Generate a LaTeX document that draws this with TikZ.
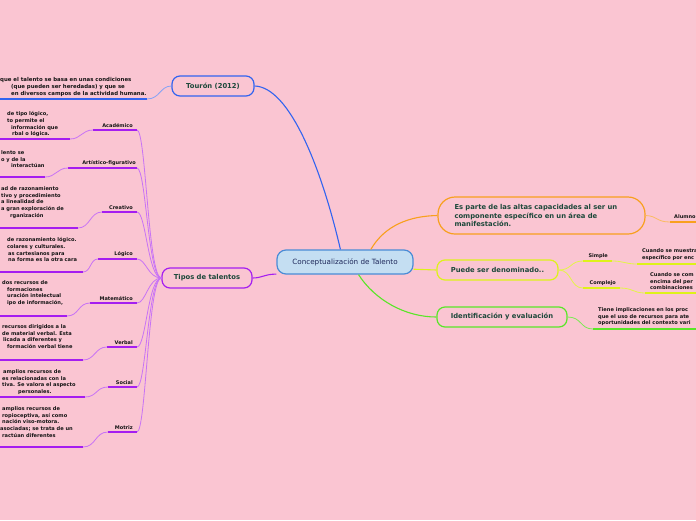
\documentclass[tikz,border=0pt]{standalone}
\usepackage{fontspec}
\setmainfont{DejaVu Sans}
\usepackage{tikz}
\usetikzlibrary{positioning}
\definecolor{bgpink}{RGB}{250,197,210}
\definecolor{nodetext}{RGB}{28,72,58}
\definecolor{navytext}{RGB}{30,40,90}
\definecolor{centfill}{RGB}{196,222,242}
\definecolor{centdraw}{RGB}{74,140,214}
\definecolor{tblue}{RGB}{50,100,240}
\definecolor{tpurple}{RGB}{165,30,240}
\definecolor{lpurple}{RGB}{200,115,245}
\definecolor{torange}{RGB}{248,160,30}
\definecolor{tyellow}{RGB}{222,242,25}
\definecolor{tgreen}{RGB}{90,230,40}
\begin{document}
\begin{tikzpicture}[x=1pt,y=-1pt]
		\tikzset{idea/.style={draw=#1,line width=1.2pt,rounded corners=8pt,text=nodetext,font=\fontsize{6.8}{8.4}\selectfont\bfseries,inner sep=0pt,minimum height=20pt}};
		\tikzset{sub/.style={text=black!92,font=\fontsize{5}{6.6}\selectfont\bfseries,inner sep=0pt}};
		\tikzset{nota/.style={text=black!92,font=\fontsize{5.1}{6.6}\selectfont\bfseries,inner sep=0pt,anchor=north west,align=left}};
		\tikzset{ramal/.style={line width=0.8pt,#1}};
		\tikzset{raya/.style={line width=1.8pt,#1}};
		\useasboundingbox (0,0) rectangle (696,520);
		\clip (0,0) rectangle (696,520);
		\fill[bgpink] (0,0) rectangle (696,520);
		\node[idea=centdraw,fill=centfill,rounded corners=9pt,minimum width=136pt,minimum height=24pt,font=\fontsize{7.2}{8.6}\selectfont,text=navytext] (talento) at (345,262) {Conceptualización de Talento};
		\node[idea=tblue,minimum width=82pt] (touron) at (213,86) {Tourón (2012)};
		\node[idea=tpurple,minimum width=90pt] (tipos) at (207,278) {Tipos de talentos};
		\node[idea=torange,rounded corners=17pt,minimum width=207pt,minimum height=37pt,text width=174pt,align=left] (altas) at (541.5,215.5) {Es parte de las altas capacidades al ser un\\componente específico en un área de\\manifestación.};
		\node[idea=tyellow,minimum width=121pt] (denom) at (497.5,270) {Puede ser denominado..};
		\node[idea=tgreen,minimum width=130pt] (identif) at (502,317) {Identificación y evaluación};
		\draw[tblue,line width=1.1pt] (talento.110) .. controls (322,170) and (290,87) .. (touron.east);
		\draw[tpurple,line width=1.1pt] (talento.190) .. controls (265,274) and (262,278) .. (tipos.east);
		\draw[torange,line width=1.1pt] (talento.26) .. controls (385,225) and (410,216) .. (altas.west);
		\draw[tyellow,line width=1.1pt] (talento.-6) .. controls (425,269) and (425,270) .. (denom.west);
		\draw[tgreen,line width=1.1pt] (talento.-43) .. controls (375,300) and (405,317) .. (identif.west);
		\coordinate (tuR) at (147,99);
		\coordinate (tuE) at (0,99);
		\draw[ramal=tblue!60] (touron.west) .. controls (160,86) and (160,99) .. (tuR);
		\draw[raya=tblue] (tuR) -- (tuE);
		\node[nota,font=\fontsize{5.4}{6.6}\selectfont\bfseries] (tutext) at (0,77.5) {que el talento se basa en unas condiciones\\\hspace*{11pt}(que pueden ser heredadas) y que se\\\hspace*{11pt}en diversos campos de la actividad humana.};
		\coordinate (acaR) at (137,130); \coordinate (acaL) at (93,130);
		\coordinate (acaT) at (70,139); \coordinate (acaE) at (0,139);
		\draw[ramal=lpurple] (tipos.west) .. controls (148,278) and (146,130) .. (acaR);
		\draw[raya=tpurple] (acaL) -- (acaR);
		\node[sub,above left=2pt and 4pt of acaR] (aca) {Académico};
		\draw[ramal=lpurple] (acaL) .. controls (82,130) and (81,139) .. (acaT);
		\draw[raya=tpurple] (acaT) -- (acaE);
		\node[nota] (acatext) at (0,111.7) {\hspace*{7pt}de tipo lógico,\\\hspace*{7pt}to permite el\\\hspace*{11pt}información que\\\hspace*{12pt}rbal o lógica.};
		\coordinate (artR) at (137,168); \coordinate (artL) at (68,168);
		\coordinate (artT) at (45,177); \coordinate (artE) at (0,177);
		\draw[ramal=lpurple] (tipos.west) .. controls (148,278) and (146,168) .. (artR);
		\draw[raya=tpurple] (artL) -- (artR);
		\node[sub,above left=2pt and 1pt of artR] (art) {Artístico-figurativo};
		\draw[ramal=lpurple] (artL) .. controls (57,168) and (56,177) .. (artT);
		\draw[raya=tpurple] (artT) -- (artE);
		\node[nota] (arttext) at (0,150.4) {\hspace*{1pt}lento se\\\hspace*{1pt}o y de la\\\hspace*{11pt}interactúan};
		\coordinate (creR) at (137,212); \coordinate (creL) at (102,212);
		\coordinate (creT) at (78,228); \coordinate (creE) at (0,228);
		\draw[ramal=lpurple] (tipos.west) .. controls (148,278) and (146,212) .. (creR);
		\draw[raya=tpurple] (creL) -- (creR);
		\node[sub,above left=2pt and 4pt of creR] (cre) {Creativo};
		\draw[ramal=lpurple] (creL) .. controls (90,212) and (90,228) .. (creT);
		\draw[raya=tpurple] (creT) -- (creE);
		\node[nota] (cretext) at (0,186.7) {\hspace*{1pt}ad de razonamiento\\\hspace*{1pt}tivo y procedimiento\\\hspace*{1pt}a linealidad de\\\hspace*{1pt}a gran exploración de\\\hspace*{10pt}rganización};
		\coordinate (logR) at (137,259); \coordinate (logL) at (98,259);
		\coordinate (logT) at (83,272); \coordinate (logE) at (0,272);
		\draw[ramal=lpurple] (tipos.west) .. controls (148,278) and (146,259) .. (logR);
		\draw[raya=tpurple] (logL) -- (logR);
		\node[sub,above left=2pt and 4pt of logR] (log) {Lógico};
		\draw[ramal=lpurple] (logL) .. controls (90,259) and (91,272) .. (logT);
		\draw[raya=tpurple] (logT) -- (logE);
		\node[nota] (logtext) at (0,237.7) {\hspace*{7pt}de razonamiento lógico.\\\hspace*{7pt}colares y culturales.\\\hspace*{8pt}as cartesianos para\\\hspace*{8pt}na forma es la otra cara};
		\coordinate (matR) at (137,303); \coordinate (matL) at (90,303);
		\coordinate (matT) at (67,316); \coordinate (matE) at (0,316);
		\draw[ramal=lpurple] (tipos.west) .. controls (148,278) and (146,303) .. (matR);
		\draw[raya=tpurple] (matL) -- (matR);
		\node[sub,above left=2pt and 4pt of matR] (mat) {Matemático};
		\draw[ramal=lpurple] (matL) .. controls (78,303) and (79,316) .. (matT);
		\draw[raya=tpurple] (matT) -- (matE);
		\node[nota] (mattext) at (0,280.7) {\hspace*{2pt}dos recursos de\\\hspace*{7pt}formaciones\\\hspace*{7pt}uración intelectual\\\hspace*{7pt}ipo de información,};
		\coordinate (verR) at (137,347); \coordinate (verL) at (107,347);
		\coordinate (verT) at (83,360); \coordinate (verE) at (0,360);
		\draw[ramal=lpurple] (tipos.west) .. controls (148,278) and (146,347) .. (verR);
		\draw[raya=tpurple] (verL) -- (verR);
		\node[sub,above left=2pt and 4pt of verR] (ver) {Verbal};
		\draw[ramal=lpurple] (verL) .. controls (95,347) and (95,360) .. (verT);
		\draw[raya=tpurple] (verT) -- (verE);
		\node[nota] (vertext) at (0,324.7) {\hspace*{2pt}recursos dirigidos a la\\\hspace*{2pt}de material verbal. Esta\\\hspace*{3pt}licada a diferentes y\\\hspace*{7pt}formación verbal tiene};
		\coordinate (socR) at (137,387); \coordinate (socL) at (108,387);
		\coordinate (socT) at (85,397); \coordinate (socE) at (0,397);
		\draw[ramal=lpurple] (tipos.west) .. controls (148,278) and (146,387) .. (socR);
		\draw[raya=tpurple] (socL) -- (socR);
		\node[sub,above left=2pt and 4pt of socR] (soc) {Social};
		\draw[ramal=lpurple] (socL) .. controls (96,387) and (97,397) .. (socT);
		\draw[raya=tpurple] (socT) -- (socE);
		\node[nota] (soctext) at (0,369.7) {\hspace*{3pt}amplios recursos de\\\hspace*{2pt}es relacionadas con la\\\hspace*{2pt}tiva. Se valora el aspecto\\\hspace*{18pt}personales.};
		\coordinate (motR) at (137,432); \coordinate (motL) at (108,432);
		\coordinate (motT) at (83,447); \coordinate (motE) at (0,447);
		\draw[ramal=lpurple] (tipos.west) .. controls (148,278) and (146,432) .. (motR);
		\draw[raya=tpurple] (motL) -- (motR);
		\node[sub,above left=2pt and 4pt of motR] (mot) {Motriz};
		\draw[ramal=lpurple] (motL) .. controls (95,432) and (96,447) .. (motT);
		\draw[raya=tpurple] (motT) -- (motE);
		\node[nota] (mottext) at (0,406.7) {\hspace*{2pt}amplios recursos de\\\hspace*{2pt}ropioceptiva, así como\\\hspace*{2pt}nación viso-motora.\\asociadas; se trata de un\\\hspace*{2pt}ractúan diferentes};
		\coordinate (aluL) at (670,222); \coordinate (aluE) at (700,222);
		\draw[ramal=torange!70] (altas.east) .. controls (658,216) and (656,222) .. (aluL);
		\draw[raya=torange] (aluL) -- (aluE);
		\node[sub,anchor=south west] (alumno) at (674,219) {Alumno};
		\coordinate (simL) at (583,261); \coordinate (simR) at (612,261);
		\coordinate (simT) at (637,264); \coordinate (simE) at (700,264);
		\draw[ramal=tyellow!80] (denom.east) .. controls (572,270) and (570,261) .. (simL);
		\draw[raya=tyellow] (simL) -- (simR);
		\node[sub,above left=2pt and 4pt of simR] (simple) {Simple};
		\draw[ramal=tyellow!80] (simR) .. controls (624,261) and (625,264) .. (simT);
		\draw[raya=tyellow] (simT) -- (simE);
		\node[nota] (simtext) at (642,248.7) {Cuando se muestra\\específico por enc};
		\coordinate (comL) at (583,288); \coordinate (comR) at (620,288);
		\coordinate (comT) at (645,293); \coordinate (comE) at (700,293);
		\draw[ramal=tyellow!80] (denom.east) .. controls (572,270) and (570,288) .. (comL);
		\draw[raya=tyellow] (comL) -- (comR);
		\node[sub,above left=2pt and 4pt of comR] (complejo) {Complejo};
		\draw[ramal=tyellow!80] (comR) .. controls (633,288) and (633,293) .. (comT);
		\draw[raya=tyellow] (comT) -- (comE);
		\node[nota] (comtext) at (650,272.7) {Cuando se com\\encima del per\\combinaciones};
		\coordinate (ideT) at (593,329); \coordinate (ideE) at (700,329);
		\draw[ramal=tgreen!80] (identif.east) .. controls (582,317) and (580,329) .. (ideT);
		\draw[raya=tgreen] (ideT) -- (ideE);
		\node[nota] (idetext) at (598,307.7) {Tiene implicaciones en los proc\\que el uso de recursos para ate\\oportunidades del contexto vari};
\end{tikzpicture}
\end{document}
